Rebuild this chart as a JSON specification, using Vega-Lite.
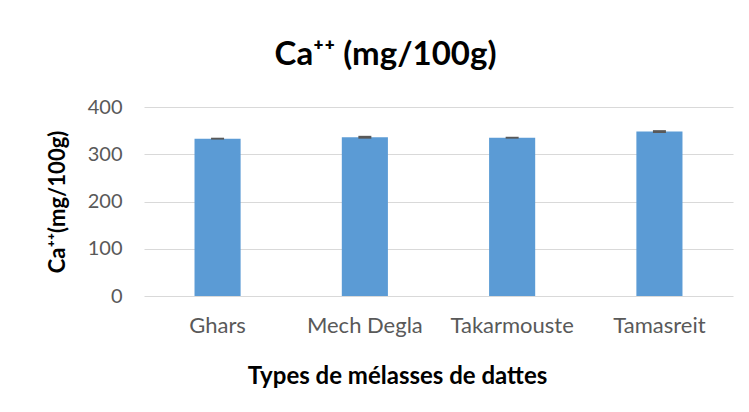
{
  "$schema": "https://vega.github.io/schema/vega-lite/v6.json",
  "width": 589,
  "height": 189,
  "autosize": "none",
  "padding": {"left": 144, "top": 107, "right": 16, "bottom": 116},
  "background": "white",
  "config": {"view": {"stroke": null}, "font": "Lato"},
  "title": {
    "text": "Ca⁺⁺ (mg/100g)",
    "fontSize": 33,
    "fontWeight": "bold",
    "color": "black",
    "font": "Lato",
    "anchor": "middle",
    "dx": -53,
    "offset": 25
  },
  "data": {
    "values": [
      {"type": "Ghars", "value": 333, "lo": 331, "hi": 335},
      {"type": "Mech Degla", "value": 336, "lo": 333, "hi": 339},
      {"type": "Takarmouste", "value": 335, "lo": 333, "hi": 337},
      {"type": "Tamasreit", "value": 348, "lo": 345, "hi": 351}
    ]
  },
  "encoding": {
    "x": {
      "field": "type",
      "type": "nominal",
      "sort": null,
      "scale": {"paddingInner": 0.687, "paddingOuter": 0.343},
      "axis": {
        "labelAngle": 0,
        "labelFontSize": 22,
        "labelColor": "#595959",
        "labelPadding": 19,
        "ticks": false,
        "domain": false,
        "title": "Types de mélasses de dattes",
        "titleFontSize": 24,
        "titleFontWeight": "bold",
        "titleColor": "black",
        "titlePadding": 28,
        "titleX": 253
      }
    }
  },
  "layer": [
    {
      "mark": {"type": "bar", "color": "#5B9BD5"},
      "encoding": {
        "y": {
          "field": "value",
          "type": "quantitative",
          "scale": {"domain": [0, 400]},
          "axis": {
            "values": [0, 100, 200, 300, 400],
            "domain": false,
            "ticks": false,
            "grid": true,
            "gridColor": "#D9D9D9",
            "gridWidth": 1,
            "labelFontSize": 20,
            "labelColor": "#595959",
            "labelPadding": 22,
            "title": "Ca⁺⁺(mg/100g)",
            "titleFontSize": 22,
            "titleFontWeight": "bold",
            "titleColor": "black",
            "titlePadding": 18
          }
        }
      }
    },
    {
      "mark": {"type": "bar", "color": "#595959", "size": 13},
      "encoding": {
        "y": {"field": "lo", "type": "quantitative"},
        "y2": {"field": "hi"}
      }
    }
  ]
}
